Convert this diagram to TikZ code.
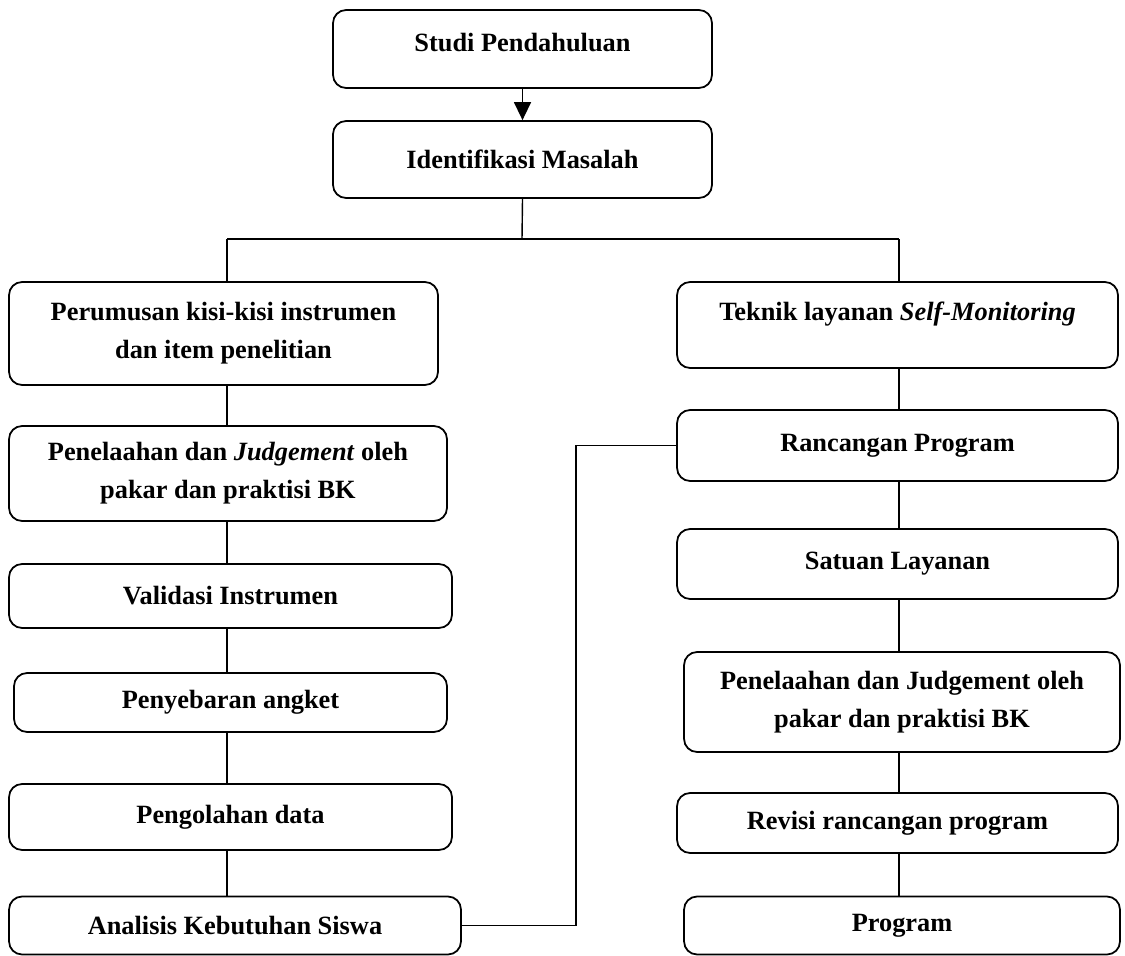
\documentclass[tikz,border=0pt]{standalone}
\usepackage{fontspec}
\setmainfont{Liberation Serif}
\usetikzlibrary{arrows.meta}

\begin{document}
\begin{tikzpicture}[x=0.02cm, y=-0.02cm,
	every node/.style={font=\bfseries\fontsize{15}{21.5}\selectfont},
	box/.style 2 args={draw, line width=1pt, rounded corners=0.26cm, align=center, inner sep=0pt, minimum width=#1cm, minimum height=#2cm},
	link/.style={line width=0.8pt}]
	\useasboundingbox (0,0) rectangle (1125,956);

	\node[box={7.58}{1.56}, text depth=7pt] (studi) at (522.5,49) {Studi Pendahuluan};
	\node[box={7.58}{1.54}] (ident) at (522.5,159.5) {Identifikasi Masalah};

	\node[box={8.58}{2.06}] (perum) at (223.5,333.5) {Perumusan kisi-kisi instrumen\\dan item penelitian};
	\node[box={8.76}{1.9}] (pen1) at (228,473.5) {Penelaahan dan \textit{Judgement} oleh\\pakar dan praktisi BK};
	\node[box={8.86}{1.28}] (valid) at (230.5,596) {Validasi Instrumen};
	\node[box={8.66}{1.18}] (sebar) at (230.5,702.5) {Penyebaran angket};
	\node[box={8.86}{1.32}] (olah) at (230.5,817) {Pengolahan data};
	\node[box={9.04}{1.16}] (anal) at (235,925.5) {Analisis Kebutuhan Siswa};

	\node[box={8.82}{1.72}, text depth=16pt] (teknik) at (897.5,325) {Teknik layanan \textit{Self-Monitoring}};
	\node[box={8.82}{1.42}] (rancang) at (897.5,445.5) {Rancangan Program};
	\node[box={8.82}{1.4}] (satuan) at (897.5,564) {Satuan Layanan};
	\node[box={8.72}{2.0}] (pen2) at (902,702) {Penelaahan dan Judgement oleh\\pakar dan praktisi BK};
	\node[box={8.82}{1.2}] (revisi) at (897.5,823) {Revisi rancangan program};
	\node[box={8.72}{1.16}] (prog) at (902,925.5) {Program};

	\coordinate (bus) at (522,239);
	\coordinate (lcol) at (227,239);
	\coordinate (rcol) at (899,239);

	\draw[link, -{Triangle[width=0.34cm, length=0.36cm]}] (studi) -- (ident);
	\draw[link] (ident.south) -- (bus);
	\draw[link] (lcol) -- (rcol);
	\draw[link] (lcol) -- (lcol |- perum.north);
	\draw[link] (rcol) -- (rcol |- teknik.north);
	\foreach \a/\b in {perum/pen1, pen1/valid, valid/sebar, sebar/olah, olah/anal}
		\draw[link] (lcol |- \a.south) -- (lcol |- \b.north);
	\foreach \a/\b in {teknik/rancang, rancang/satuan, satuan/pen2, pen2/revisi, revisi/prog}
		\draw[link] (rcol |- \a.south) -- (rcol |- \b.north);
	\draw[link] (anal.east) -- ++(114,0) |- (rancang.west);
\end{tikzpicture}
\end{document}
